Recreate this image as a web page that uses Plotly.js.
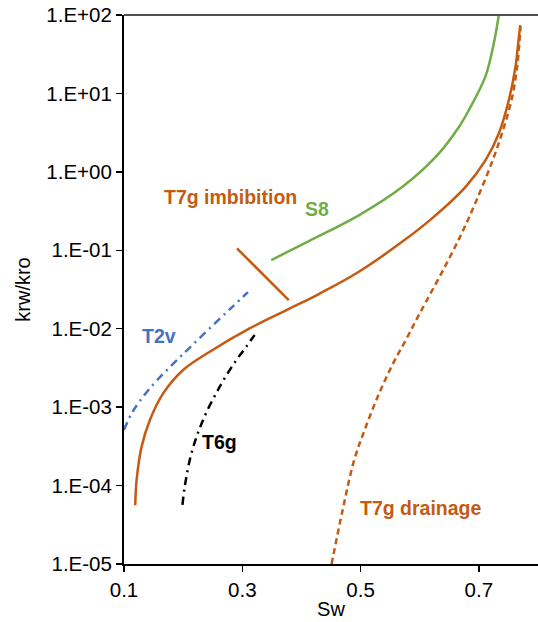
<!DOCTYPE html>
<html>
<head>
<meta charset="utf-8">
<script src="https://cdn.plot.ly/plotly-3.0.1.min.js"></script>
<style>html,body{margin:0;padding:0;background:#fff;}#chart{width:538px;height:622px;}</style>
</head>
<body>
<div id="chart"></div>
<script>
// ---- Data ----
// T7g imbibition (solid orange)
const imbSw = [0.119, 0.1213, 0.1298, 0.1438, 0.1662, 0.2, 0.245, 0.3124, 0.3798, 0.4303, 0.4978, 0.5708, 0.6213, 0.6776, 0.7113, 0.7337, 0.7506, 0.7619, 0.7674, 0.7700];
const imbRatio = [5.6e-5, 1.17e-4, 3.14e-4, 6.87e-4, 1.50e-3, 2.98e-3, 5.09e-3, 1.01e-2, 1.80e-2, 2.79e-2, 5.37e-2, 0.129, 0.257, 0.644, 1.41, 3.08, 8.18, 21.8, 50.1, 74.1];
// T7g drainage (dashed orange)
const drnSw = [0.451, 0.4697, 0.4893, 0.509, 0.5315, 0.5556, 0.5765, 0.5933, 0.610, 0.6439, 0.6719, 0.6950, 0.7225, 0.742, 0.7562, 0.7646, 0.7686, 0.7705];
const drnRatio = [1.0e-5, 4.9e-5, 2.12e-4, 5.65e-4, 1.50e-3, 3.69e-3, 7.18e-3, 1.26e-2, 2.16e-2, 6.46e-2, 0.170, 0.417, 1.35, 3.63, 8.91, 21.4, 45.7, 70.8];
// S8 (solid green)
const s8Sw = [0.349, 0.4135, 0.4978, 0.5708, 0.627, 0.6663, 0.683, 0.7113, 0.7253, 0.7337];
const s8Ratio = [0.075, 0.132, 0.281, 0.644, 1.55, 3.74, 6.11, 16.6, 43.7, 100];
// T2v (blue dash-dot)
const t2vSw = [0.1, 0.1145, 0.1438, 0.1927, 0.2112, 0.2505, 0.2842, 0.3096];
const t2vRatio = [5.13e-4, 8.71e-4, 1.74e-3, 4.22e-3, 5.75e-3, 1.11e-2, 1.93e-2, 2.92e-2];
// T6g (black dash-dot)
const t6gSw = [0.1989, 0.2028, 0.2141, 0.2337, 0.2618, 0.29, 0.3068, 0.3208];
const t6gRatio = [5.68e-5, 9.77e-5, 2.59e-4, 6.87e-4, 1.82e-3, 3.99e-3, 5.9e-3, 8.32e-3];
// T7g imbibition label pointer segment
const ptrSw = [0.291, 0.3786];
const ptrRatio = [0.1057, 0.0232];

// Tick labels
const xTickVals = [0.1, 0.3, 0.5, 0.7];
const xTickText = ['0.1', '0.3', '0.5', '0.7'];
const yTickVals = [1e-5, 1e-4, 1e-3, 1e-2, 1e-1, 1, 10, 100];
const yTickText = ['1.E-05', '1.E-04', '1.E-03', '1.E-02', '1.E-01', '1.E+00', '1.E+01', '1.E+02'];

// ---- Styles ----
const ORANGE = '#C55A11';
const GREEN = '#70AD47';
const BLUE = '#4472C4';
const FONT = 'Liberation Sans, Arial, Helvetica, sans-serif';
const SM = 1.0;

const traces = [
  {x: imbSw, y: imbRatio, mode: 'lines', line: {color: ORANGE, width: 2.5, shape: 'spline', smoothing: SM}},
  {x: drnSw, y: drnRatio, mode: 'lines', line: {color: ORANGE, width: 2.5, dash: '6px,4px', shape: 'spline', smoothing: SM}},
  {x: s8Sw, y: s8Ratio, mode: 'lines', line: {color: GREEN, width: 2.5, shape: 'spline', smoothing: SM}},
  {x: t2vSw, y: t2vRatio, mode: 'lines', line: {color: BLUE, width: 2.5, dash: '8px,5px,2px,5px', shape: 'spline', smoothing: SM}},
  {x: t6gSw, y: t6gRatio, mode: 'lines', line: {color: '#000000', width: 2.5, dash: '8px,5px,2px,5px', shape: 'spline', smoothing: SM}},
  {x: ptrSw, y: ptrRatio, mode: 'lines', line: {color: ORANGE, width: 2.5}}
];

function lbl(text, x, ly, color) {
  return {text: '<b>' + text + '</b>', x: x, y: ly, xref: 'x', yref: 'y', showarrow: false,
          xanchor: 'center', yanchor: 'middle', font: {family: FONT, size: 19.5, color: color}};
}

const layout = {
  width: 538, height: 622,
  margin: {l: 124, r: 0, t: 15, b: 58, pad: 0},
  paper_bgcolor: '#ffffff', plot_bgcolor: '#ffffff',
  showlegend: false,
  font: {family: FONT, color: '#000000'},
  xaxis: {
    range: [0.1, 0.8], tickvals: xTickVals, ticktext: xTickText,
    ticks: 'outside', ticklen: 6, tickwidth: 1.5, tickcolor: '#000',
    showline: true, linecolor: '#000', linewidth: 2, showgrid: false, zeroline: false,
    tickfont: {family: FONT, size: 20.5, color: '#000'},
    title: {text: 'Sw', font: {family: FONT, size: 20, color: '#000'}, standoff: 2}
  },
  yaxis: {
    type: 'log', range: [-5, 2], tickvals: yTickVals, ticktext: yTickText,
    ticks: 'outside', ticklen: 6, tickwidth: 1.5, tickcolor: '#000',
    showline: true, linecolor: '#000', linewidth: 2, showgrid: false, zeroline: false,
    tickfont: {family: FONT, size: 20.5, color: '#000'},
    title: {text: 'krw/kro', font: {family: FONT, size: 20, color: '#000'}, standoff: 10}
  },
  shapes: [
    {type: 'line', xref: 'paper', yref: 'paper', x0: 0, x1: 1, y0: 1, y1: 1, line: {color: '#505050', width: 2}}
  ],
  annotations: [
    lbl('T7g imbibition', 0.2807, -0.326, ORANGE),
    lbl('S8', 0.4265, -0.473, GREEN),
    lbl('T2v', 0.1587, -2.093, BLUE),
    lbl('T6g', 0.2621, -3.447, '#000000'),
    lbl('T7g drainage', 0.6018, -4.284, ORANGE)
  ]
};

Plotly.newPlot('chart', traces, layout, {displayModeBar: false, staticPlot: true});
</script>
</body>
</html>
